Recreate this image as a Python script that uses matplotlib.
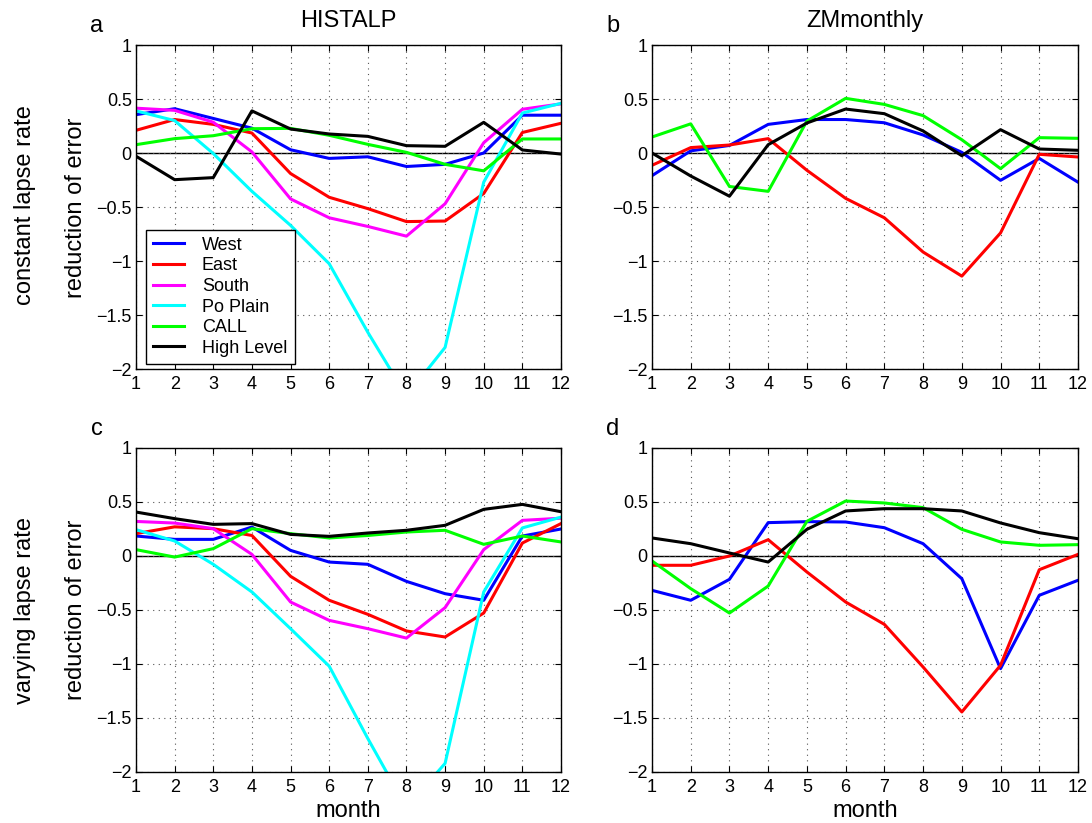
import matplotlib
matplotlib.use("Agg")
import matplotlib.pyplot as plt
from matplotlib.ticker import FuncFormatter

plt.rcParams['font.family'] = ['Liberation Sans', 'DejaVu Sans']

months = list(range(1, 13))
names = ["West", "East", "South", "Po Plain", "CALL", "High Level"]
colors = ["#0000ff", "#ff0000", "#ff00ff", "#00ffff", "#00ff00", "#000000"]

# a: HISTALP, constant lapse rate
a_west = [0.355, 0.41, 0.32, 0.23, 0.03, -0.05, -0.035, -0.125, -0.105, 0.0, 0.35, 0.35]
a_east = [0.21, 0.31, 0.265, 0.185, -0.19, -0.41, -0.515, -0.635, -0.63, -0.375, 0.19, 0.275]
a_south = [0.415, 0.395, 0.285, 0.01, -0.425, -0.6, -0.68, -0.77, -0.47, 0.095, 0.405, 0.455]
a_po = [0.39, 0.30, -0.005, -0.355, -0.67, -1.025, -1.66, -2.25, -1.80, -0.27, 0.37, 0.46]
a_call = [0.077, 0.133, 0.16, 0.225, 0.228, 0.164, 0.08, 0.006, -0.105, -0.165, 0.13, 0.13]
a_high = [-0.03, -0.247, -0.228, 0.39, 0.222, 0.176, 0.154, 0.068, 0.062, 0.284, 0.028, -0.01]

# b: ZMmonthly, constant lapse rate
b_west = [-0.21, 0.02, 0.07, 0.265, 0.31, 0.31, 0.28, 0.167, 0.006, -0.253, -0.05, -0.27]
b_east = [-0.114, 0.05, 0.074, 0.133, -0.16, -0.42, -0.6, -0.917, -1.14, -0.74, -0.012, -0.037]
b_call = [0.148, 0.27, -0.31, -0.355, 0.296, 0.506, 0.45, 0.346, 0.123, -0.145, 0.142, 0.136]
b_high = [0.0, -0.213, -0.40, 0.077, 0.278, 0.407, 0.364, 0.204, -0.025, 0.216, 0.037, 0.025]

# c: HISTALP, varying lapse rate
c_west = [0.185, 0.154, 0.154, 0.268, 0.052, -0.056, -0.077, -0.235, -0.349, -0.41, 0.185, 0.25]
c_east = [0.207, 0.27, 0.253, 0.19, -0.188, -0.41, -0.54, -0.694, -0.75, -0.528, 0.12, 0.3]
c_south = [0.32, 0.305, 0.253, 0.015, -0.426, -0.596, -0.673, -0.76, -0.478, 0.059, 0.33, 0.35]
c_po = [0.244, 0.139, -0.077, -0.333, -0.673, -1.02, -1.69, -2.33, -1.92, -0.333, 0.26, 0.36]
c_call = [0.059, -0.01, 0.068, 0.253, 0.207, 0.167, 0.19, 0.222, 0.238, 0.108, 0.185, 0.13]
c_high = [0.407, 0.346, 0.293, 0.3, 0.2, 0.182, 0.213, 0.238, 0.284, 0.432, 0.478, 0.41]

# d: ZMmonthly, varying lapse rate
d_west = [-0.318, -0.41, -0.216, 0.309, 0.318, 0.315, 0.262, 0.114, -0.21, -1.043, -0.364, -0.225]
d_east = [-0.086, -0.086, 0.0, 0.151, -0.148, -0.426, -0.633, -1.028, -1.444, -1.012, -0.127, 0.015]
d_call = [-0.046, -0.302, -0.528, -0.278, 0.321, 0.509, 0.491, 0.448, 0.247, 0.13, 0.099, 0.105]
d_high = [0.167, 0.114, 0.028, -0.056, 0.247, 0.417, 0.438, 0.438, 0.417, 0.306, 0.216, 0.16]

panels = [
    ("a", [a_west, a_east, a_south, a_po, a_call, a_high], [0, 1, 2, 3, 4, 5]),
    ("b", [b_west, b_east, b_call, b_high], [0, 1, 4, 5]),
    ("c", [c_west, c_east, c_south, c_po, c_call, c_high], [0, 1, 2, 3, 4, 5]),
    ("d", [d_west, d_east, d_call, d_high], [0, 1, 4, 5]),
]

fig = plt.figure(figsize=(10.92, 8.23), dpi=100)
W, H = 1092.0, 823.0
rects = {
    "a": [136 / W, 1 - 369 / H, 425 / W, 324 / H],
    "b": [652 / W, 1 - 369 / H, 426 / W, 324 / H],
    "c": [136 / W, 1 - 772 / H, 425 / W, 324 / H],
    "d": [652 / W, 1 - 772 / H, 426 / W, 324 / H],
}

fmt = FuncFormatter(lambda v, p: ("%g" % v).replace("-", "\u2212"))

axes = {}
for letter, series, idx in panels:
    ax = fig.add_axes(rects[letter])
    axes[letter] = ax
    ax.axhline(0, color="black", lw=1.0, zorder=1)
    for y, i in zip(series, idx):
        ax.plot(months, y, color=colors[i], lw=2.2, label=names[i], zorder=2)
    ax.set_xlim(1, 12)
    ax.set_ylim(-2, 1)
    ax.set_xticks(months)
    ax.set_yticks([-2, -1.5, -1, -0.5, 0, 0.5, 1])
    ax.yaxis.set_major_formatter(fmt)
    ax.tick_params(direction="in", top=True, right=True, labelsize=13, length=4)
    ax.tick_params(axis="x", pad=5)
    ax.tick_params(axis="y", pad=3)
    ax.grid(True, linestyle=(0, (1, 4)), color="#555555", lw=0.8)
    for s in ax.spines.values():
        s.set_linewidth(1.0)
    ax.text(-0.092, 1.025, letter, transform=ax.transAxes, fontsize=17, ha="center", va="bottom")

axes["a"].set_title("HISTALP", fontsize=17, pad=13)
axes["b"].set_title("ZMmonthly", fontsize=17, pad=13)
axes["c"].set_xlabel("month", fontsize=17, labelpad=3)
axes["d"].set_xlabel("month", fontsize=17, labelpad=3)

fig.text(76 / W, 1 - 208 / H, "reduction of error", rotation=90, fontsize=17, ha="center", va="center")
fig.text(76 / W, 1 - 610 / H, "reduction of error", rotation=90, fontsize=17, ha="center", va="center")
fig.text(25 / W, 1 - 205 / H, "constant lapse rate", rotation=90, fontsize=17, ha="center", va="center")
fig.text(25 / W, 1 - 610 / H, "varying lapse rate", rotation=90, fontsize=17, ha="center", va="center")

leg = axes["a"].legend(loc="lower left", bbox_to_anchor=(10 / 425, 5 / 324), borderaxespad=0,
                       fontsize=13, fancybox=False, edgecolor="black", framealpha=1,
                       handlelength=1.7, labelspacing=0.2, borderpad=0.4, handletextpad=1.0)
leg.get_frame().set_linewidth(1.0)

fig.savefig("out.png", dpi=100)
plt.close(fig)
